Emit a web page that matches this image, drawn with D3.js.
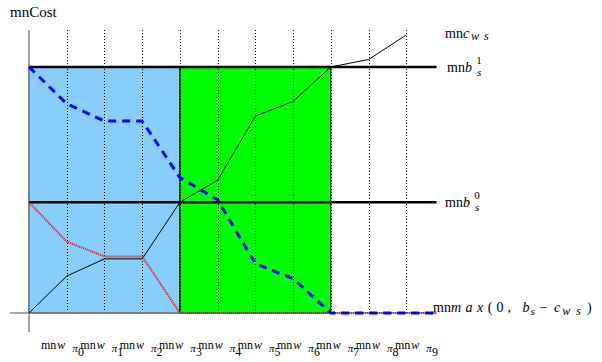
<!DOCTYPE html>
<html>
<head>
<meta charset="utf-8">
<script src="https://cdn.jsdelivr.net/npm/d3@7"></script>
<style>
  body { margin: 0; background: #fff; }
  text { font-family: "Liberation Serif", "DejaVu Serif", serif; fill: #000; }
  .math { font-style: italic; }
</style>
</head>
<body>
<script>
var w = 602;
var h = 362;

// breakpoints along the x axis (index of the sorted items)
var steps = [0, 1, 2, 3, 4, 5, 6, 7, 8, 9, 10];
// cumulative cost c_ws at each breakpoint
var costWs = [0, 1.5, 2.2, 2.2, 4.5, 5.4, 8.0, 8.6, 10, 10.3, 11.3];

// the two budget levels b_s^0 and b_s^1
var budgets = [4.5, 10];
var budgetNames = ["0", "1"];

// max(0, b_s - c_ws) for both budgets
var gainX = [0, 1, 2, 3, 4, 5, 6, 7, 8, 9, 10, 10.8];
var gainHigh = [10, 8.5, 7.8, 7.8, 5.5, 4.6, 2.0, 1.4, 0, 0, 0, 0];
var gainLow = [4.5, 2.9, 2.3, 2.3, 0, 0, 0, 0, 0, 0, 0, 0];

// shaded regions (start step, end step)
var regionStart = [0, 4];
var regionEnd = [4, 8];
var regionFill = ["#87cefa", "#00ff00"];

// x tick labels w_{pi_i}
var tickLabels = ["0", "1", "2", "3", "4", "5", "6", "7", "8", "9"];

var svg = d3.select("body")
            .append("svg")
            .attr("width", w)
            .attr("height", h);

var xScale = d3.scaleLinear()
               .domain([0, 10.8])
               .range([29, 436.5]);

var yScale = d3.scaleLinear()
               .domain([0, 11.5])
               .range([313, 30]);

// tick labels are spaced a bit wider than the grid
var labelScale = d3.scaleLinear()
                   .domain([0, 9])
                   .range([41, 395]);

// shaded areas
svg.selectAll("rect.region")
   .data(regionStart)
   .enter()
   .append("rect")
   .attr("class", "region")
   .attr("x", function (d) { return xScale(d); })
   .attr("y", yScale(budgets[1]))
   .attr("width", function (d, i) { return xScale(regionEnd[i]) - xScale(d); })
   .attr("height", yScale(0) - yScale(budgets[1]))
   .style("fill", function (d, i) { return regionFill[i]; })
   .style("stroke", "#000")
   .style("stroke-width", 1);

// dotted grid at each step
svg.selectAll("line.grid")
   .data(steps.slice(1))
   .enter()
   .append("line")
   .attr("class", "grid")
   .attr("x1", function (d) { return Math.round(xScale(d)) + 0.5; })
   .attr("x2", function (d) { return Math.round(xScale(d)) + 0.5; })
   .attr("y1", yScale(11.5))
   .attr("y2", yScale(0))
   .style("stroke", "#000")
   .style("stroke-width", 1)
   .style("stroke-dasharray", "1,2");

// axes (plain lines crossing a little past the origin)
svg.append("line")
   .attr("x1", xScale(0) - 19)
   .attr("x2", xScale(10.8))
   .attr("y1", yScale(0))
   .attr("y2", yScale(0))
   .style("stroke", "#888")
   .style("stroke-width", 1.5);

svg.append("line")
   .attr("x1", xScale(0))
   .attr("x2", xScale(0))
   .attr("y1", yScale(11.5))
   .attr("y2", yScale(0) + 19)
   .style("stroke", "#888")
   .style("stroke-width", 1.5);

// budget lines
svg.selectAll("line.budget")
   .data(budgets)
   .enter()
   .append("line")
   .attr("class", "budget")
   .attr("x1", xScale(0))
   .attr("x2", xScale(10.8))
   .attr("y1", function (d) { return yScale(d); })
   .attr("y2", function (d) { return yScale(d); })
   .style("stroke", "#000")
   .style("stroke-width", 2.5);

var line = d3.line()
             .x(function (d) { return xScale(d[0]); })
             .y(function (d) { return yScale(d[1]); });

// cost curve
svg.append("path")
   .datum(d3.zip(steps, costWs))
   .attr("d", line)
   .style("fill", "none")
   .style("stroke", "#000")
   .style("stroke-width", 1);

// max(0, b0 - c) in red dots
svg.append("path")
   .datum(d3.zip(gainX, gainLow))
   .attr("d", line)
   .style("fill", "none")
   .style("stroke", "#ff0000")
   .style("stroke-width", 2)
   .style("stroke-dasharray", "1,1");

// max(0, b1 - c) in blue dashes
svg.append("path")
   .datum(d3.zip(gainX, gainHigh))
   .attr("d", line)
   .style("fill", "none")
   .style("stroke", "#0000ff")
   .style("stroke-width", 3)
   .style("stroke-dasharray", "8,6");

// y axis title
svg.append("text")
   .attr("x", 10)
   .attr("y", 17)
   .style("font-size", "15px")
   .text("mnCost");

// label for the cost curve
var cLabel = svg.append("text")
                .attr("x", 445)
                .attr("y", 38)
                .style("font-size", "14px");
cLabel.append("tspan").text("mn");
cLabel.append("tspan").attr("class", "math").text("c");
cLabel.append("tspan")
      .attr("class", "math")
      .attr("dy", 2)
      .attr("dx", 2)
      .style("font-size", "12px")
      .style("letter-spacing", "5px")
      .text("ws");

// budget labels
svg.selectAll("text.budget")
   .data(budgets)
   .enter()
   .append("text")
   .attr("class", "budget")
   .attr("x", function (d, i) { return i == 1 ? 447 : 445; })
   .attr("y", function (d) { return yScale(d) + 5; })
   .style("font-size", "14px")
   .each(function (d, i) {
       var t = d3.select(this);
       t.append("tspan").text("mn");
       t.append("tspan").attr("class", "math").text("b");
       t.append("tspan")
        .attr("class", "math")
        .attr("dx", 5)
        .attr("dy", 4)
        .style("font-size", "11px")
        .text("s");
       t.append("tspan")
        .attr("dx", -5)
        .attr("dy", -12)
        .style("font-size", "11px")
        .text(budgetNames[i]);
   });

// label for the clipped curves
var mLabel = svg.append("text")
                .attr("x", 433)
                .attr("y", yScale(0) - 1)
                .style("font-size", "14px");
mLabel.append("tspan").text("mn");
mLabel.append("tspan").attr("class", "math").style("letter-spacing", "4.5px").text("max");
mLabel.append("tspan").style("letter-spacing", "4px").text("(0, ");
mLabel.append("tspan").attr("class", "math").text("b");
mLabel.append("tspan").attr("class", "math").attr("dy", 3).attr("dx", 1).style("font-size", "11px").text("s");
mLabel.append("tspan").attr("dy", -3).style("letter-spacing", "1.5px").text("  \u2212  ");
mLabel.append("tspan").attr("class", "math").text("c");
mLabel.append("tspan").attr("class", "math").attr("dy", 3).attr("dx", 2)
      .style("font-size", "12px").style("letter-spacing", "6px").text("ws");
mLabel.append("tspan").attr("dy", -3).text(")");

// x tick labels
svg.selectAll("text.tick")
   .data(tickLabels)
   .enter()
   .append("text")
   .attr("class", "tick")
   .attr("x", function (d, i) { return labelScale(i); })
   .attr("y", 349)
   .style("font-size", "12px")
   .each(function (d) {
       var t = d3.select(this);
       t.append("tspan").text("mn");
       t.append("tspan").attr("class", "math").attr("dx", 1).text("w");
       t.append("tspan")
        .attr("class", "math")
        .attr("dx", 7)
        .attr("dy", 3)
        .style("font-size", "11px")
        .text("\u03c0");
       t.append("tspan")
        .attr("dy", 4)
        .style("font-size", "12px")
        .text(d);
   });
</script>
</body>
</html>
